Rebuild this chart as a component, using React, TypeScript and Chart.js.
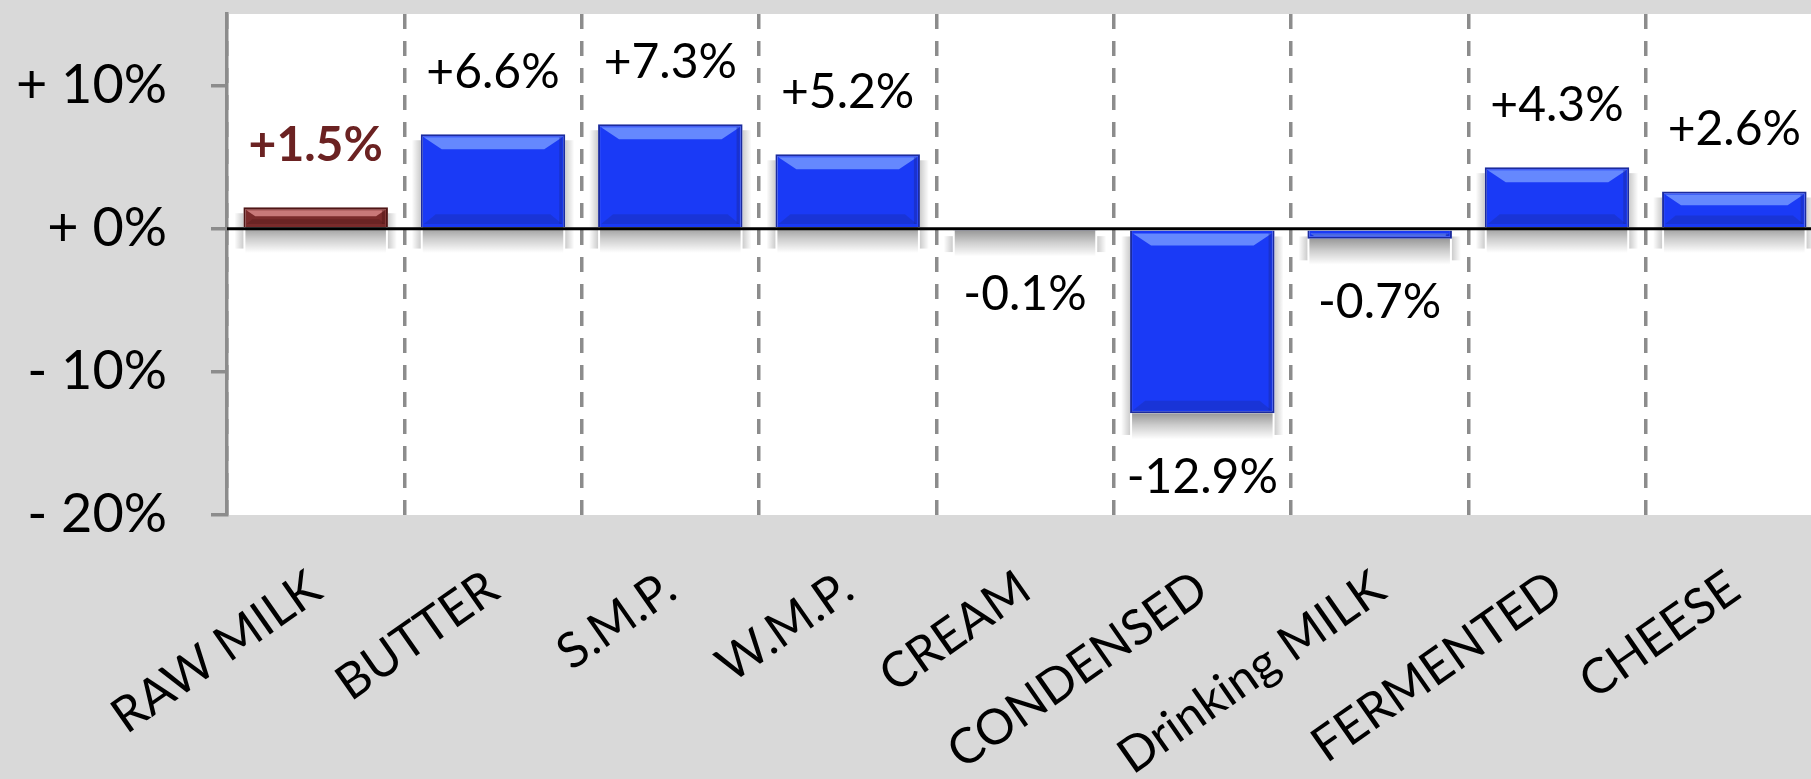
import React, { useEffect, useRef } from 'react';
import { Chart, registerables } from 'chart.js';

Chart.register(...registerables);

const categories = ['RAW MILK', 'BUTTER', 'S.M.P.', 'W.M.P.', 'CREAM', 'CONDENSED', 'Drinking MILK', 'FERMENTED', 'CHEESE'];
const changes = [1.5, 6.6, 7.3, 5.2, -0.1, -12.9, -0.7, 4.3, 2.6];
const valueLabels = ['+1.5%', '+6.6%', '+7.3%', '+5.2%', '-0.1%', '-12.9%', '-0.7%', '+4.3%', '+2.6%'];
const yTickValues = [-20, -10, 0, 10];
const yTickLabels = ['- 20%', '- 10%', '+ 0%', '+ 10%'];
const highlightIndex = 0;

const FONT = 'Lato, "Open Sans", sans-serif';
const BLUE = '#1a3af6';
const BLUE_LIGHT = 'rgba(110,145,255,0.9)';
const BLUE_DARK = '#1b2b9e';
const RED = '#7a2b2b';
const RED_LIGHT = 'rgba(205,125,125,0.95)';
const RED_DARK = '#4f1616';

const isHi = (i: number) => i === highlightIndex;

function barRect(el: any) {
  const { x, y, base, width } = el.getProps(['x', 'y', 'base', 'width'], true);
  const left = x - width / 2;
  const right = x + width / 2;
  const top = Math.min(y, base);
  const bottom = Math.max(y, base);
  return { left, right, top, bottom, h: bottom - top, w: width };
}

const decorPlugin = {
  id: 'decor',
  beforeDraw(chart: any) {
    const { ctx, chartArea: a } = chart;
    ctx.save();
    ctx.fillStyle = '#d9d9d9';
    ctx.fillRect(0, 0, chart.width, chart.height);
    ctx.fillStyle = '#ffffff';
    ctx.fillRect(a.left, a.top, a.right - a.left, a.bottom - a.top);
    ctx.restore();
  },
  beforeDatasetsDraw(chart: any) {
    const ctx = chart.ctx;
    const meta = chart.getDatasetMeta(0);
    ctx.save();
    meta.data.forEach((el: any) => {
      const r = barRect(el);
      const depth = 26;
      const g = ctx.createLinearGradient(0, r.bottom, 0, r.bottom + depth);
      g.addColorStop(0, 'rgba(0,0,0,0.40)');
      g.addColorStop(0.45, 'rgba(0,0,0,0.20)');
      g.addColorStop(1, 'rgba(0,0,0,0)');
      ctx.fillStyle = g;
      ctx.fillRect(r.left + 2, r.bottom, r.w - 4, depth);
      const side = 9;
      const gl = ctx.createLinearGradient(r.left, 0, r.left - side, 0);
      gl.addColorStop(0, 'rgba(0,0,0,0.20)');
      gl.addColorStop(1, 'rgba(0,0,0,0)');
      ctx.fillStyle = gl;
      ctx.fillRect(r.left - side, r.top + 6, side, r.h + depth * 0.6);
      const gr = ctx.createLinearGradient(r.right, 0, r.right + side, 0);
      gr.addColorStop(0, 'rgba(0,0,0,0.20)');
      gr.addColorStop(1, 'rgba(0,0,0,0)');
      ctx.fillStyle = gr;
      ctx.fillRect(r.right, r.top + 6, side, r.h + depth * 0.6);
    });
    ctx.restore();
  },
  afterDatasetsDraw(chart: any) {
    const ctx = chart.ctx;
    const a = chart.chartArea;
    const meta = chart.getDatasetMeta(0);
    ctx.save();
    meta.data.forEach((el: any, i: number) => {
      const { left, right, top, bottom, h } = barRect(el);
      const light = isHi(i) ? RED_LIGHT : BLUE_LIGHT;
      const dark = isHi(i) ? RED_DARK : BLUE_DARK;
      if (h < 4) return;
      const inset = 3;
      const band = Math.min(12, h * 0.3);
      ctx.fillStyle = light;
      ctx.beginPath();
      ctx.moveTo(left + inset, top + inset);
      ctx.lineTo(right - inset, top + inset);
      ctx.lineTo(right - inset - band * 1.5, top + inset + band);
      ctx.lineTo(left + inset + band * 1.5, top + inset + band);
      ctx.closePath();
      ctx.fill();
      ctx.globalAlpha = 0.35;
      ctx.fillStyle = dark;
      ctx.beginPath();
      ctx.moveTo(left + inset, bottom - inset);
      ctx.lineTo(right - inset, bottom - inset);
      ctx.lineTo(right - inset - band, bottom - inset - band * 0.8);
      ctx.lineTo(left + inset + band, bottom - inset - band * 0.8);
      ctx.closePath();
      ctx.fill();
      ctx.globalAlpha = 0.45;
      ctx.fillRect(right - inset - 3, top + inset, 3, h - 2 * inset);
      ctx.globalAlpha = 1;
    });
    ctx.restore();

    const yScale = chart.scales.y;
    const y0 = yScale.getPixelForValue(0);
    ctx.save();
    ctx.strokeStyle = '#000000';
    ctx.lineWidth = 3;
    ctx.beginPath();
    ctx.moveTo(a.left, y0);
    ctx.lineTo(a.right, y0);
    ctx.stroke();
    ctx.restore();

    ctx.save();
    ctx.textAlign = 'center';
    ctx.textBaseline = 'middle';
    meta.data.forEach((el: any, i: number) => {
      const v = changes[i];
      const ly = v >= 0 ? el.y - 62 : el.y + 64;
      ctx.font = (isHi(i) ? 'bold ' : '') + '48px ' + FONT;
      ctx.fillStyle = isHi(i) ? '#6b2222' : '#000000';
      ctx.fillText(valueLabels[i], el.x, ly);
    });
    ctx.restore();
  },
};

export default function App() {
  const ref = useRef<HTMLCanvasElement | null>(null);
  useEffect(() => {
    if (!ref.current) return;
    const chart = new Chart(ref.current, {
      type: 'bar',
      data: {
        labels: categories,
        datasets: [
          {
            data: changes,
            backgroundColor: changes.map((_, i) => (isHi(i) ? RED : BLUE)),
            borderColor: changes.map((_, i) => (isHi(i) ? RED_DARK : BLUE_DARK)),
            borderWidth: 2,
            categoryPercentage: 1,
            barPercentage: 0.815,
          },
        ],
      },
      options: {
        responsive: false,
        animation: false,
        devicePixelRatio: 1,
        layout: { padding: { top: 14, left: 0, right: 0, bottom: 0 } },
        plugins: { legend: { display: false }, tooltip: { enabled: false } },
        scales: {
          x: {
            offset: true,
            grid: {
              offset: true,
              color: '#8c8c8c',
              lineWidth: 3.5,
              drawTicks: false,
            },
            border: { display: false, dash: [15, 12] },
            ticks: {
              autoSkip: false,
              minRotation: 35,
              maxRotation: 35,
              padding: 44,
              color: '#000000',
              font: { family: FONT, size: 49 },
            },
            afterFit(scale: any) {
              scale.height = 264;
              scale.paddingLeft = 0;
              scale.paddingRight = 0;
              scale.paddingTop = 0;
              scale.paddingBottom = 0;
            },
          },
          y: {
            min: -20,
            max: 15,
            grid: {
              drawOnChartArea: false,
              color: '#8c8c8c',
              lineWidth: 3.5,
              tickLength: 16,
            },
            border: { display: true, color: '#8c8c8c', width: 3.5 },
            ticks: {
              stepSize: 10,
              padding: 44,
              color: '#000000',
              font: { family: FONT, size: 54 },
              callback(value: any) {
                const idx = yTickValues.indexOf(Number(value));
                return idx >= 0 ? yTickLabels[idx] : '';
              },
            },
            afterBuildTicks(scale: any) {
              scale.ticks = yTickValues.map((v) => ({ value: v }));
            },
            afterFit(scale: any) {
              scale.width = 227;
              scale.paddingLeft = 0;
              scale.paddingRight = 0;
              scale.paddingTop = 0;
              scale.paddingBottom = 0;
            },
          },
        },
      },
      plugins: [decorPlugin],
    });
    return () => chart.destroy();
  }, []);

  return (
    <div
      style={{
        position: 'fixed',
        left: 0,
        top: 0,
        width: 1811,
        height: 779,
        overflow: 'hidden',
        background: '#d9d9d9',
      }}
    >
      <canvas ref={ref} width={1823} height={779} style={{ display: 'block', width: 1823, height: 779 }} />
    </div>
  );
}
